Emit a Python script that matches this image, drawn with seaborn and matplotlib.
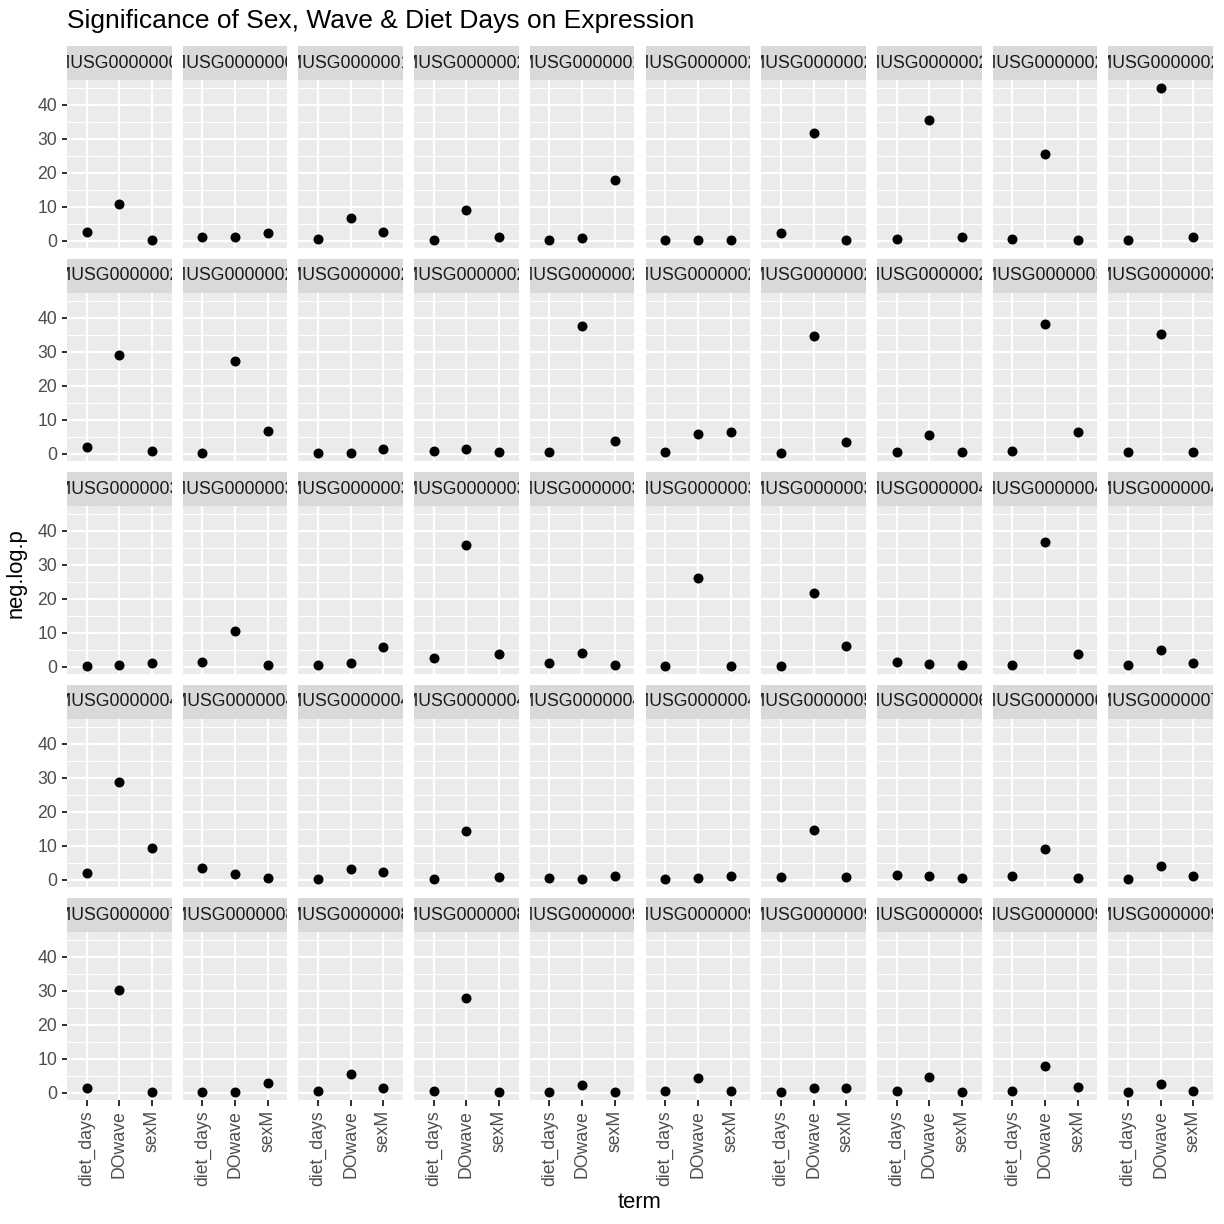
import numpy as np
import pandas as pd
import matplotlib.pyplot as plt
import seaborn as sns

# gene ids, one facet each (strip text gets clipped like in ggplot)
genes = [
    "ENSMUSG00000002076", "ENSMUSG00000005320", "ENSMUSG00000015143", "ENSMUSG00000020241",
    "ENSMUSG00000021109", "ENSMUSG00000022148", "ENSMUSG00000024030", "ENSMUSG00000025190",
    "ENSMUSG00000026580", "ENSMUSG00000028065",
    "ENSMUSG00000028410", "ENSMUSG00000028979", "ENSMUSG00000029220", "ENSMUSG00000029482",
    "ENSMUSG00000029655", "ENSMUSG00000029798", "ENSMUSG00000029910", "ENSMUSG00000029994",
    "ENSMUSG00000030711", "ENSMUSG00000031451",
    "ENSMUSG00000032171", "ENSMUSG00000032580", "ENSMUSG00000033544", "ENSMUSG00000034165",
    "ENSMUSG00000035547", "ENSMUSG00000036896", "ENSMUSG00000038437", "ENSMUSG00000040229",
    "ENSMUSG00000041616", "ENSMUSG00000042043",
    "ENSMUSG00000042638", "ENSMUSG00000044117", "ENSMUSG00000045382", "ENSMUSG00000046722",
    "ENSMUSG00000047822", "ENSMUSG00000049288", "ENSMUSG00000051331", "ENSMUSG00000060147",
    "ENSMUSG00000068245", "ENSMUSG00000071656",
    "ENSMUSG00000074807", "ENSMUSG00000081104", "ENSMUSG00000085233", "ENSMUSG00000089704",
    "ENSMUSG00000090137", "ENSMUSG00000091705", "ENSMUSG00000094483", "ENSMUSG00000095993",
    "ENSMUSG00000097451", "ENSMUSG00000099146",
]
terms = ["diet_days", "DOwave", "sexM"]

diet_days = [2.6, 1.2, 0.6, 0.3, 0.1, 0.1, 2.4, 0.6, 0.6, 0.1,
             2.0, 0.1, 0.1, 0.8, 0.5, 0.5, 0.3, 0.5, 0.8, 0.6,
             0.2, 1.4, 0.4, 2.6, 1.1, 0.3, 0.2, 1.4, 0.4, 0.5,
             2.1, 3.3, 0.1, 0.1, 0.4, 0.3, 0.8, 1.4, 1.1, 0.1,
             1.3, 0.1, 0.4, 0.4, 0.1, 0.4, 0.3, 0.4, 0.6, 0.1]
do_wave = [10.9, 1.2, 6.8, 9.1, 0.9, 0.2, 31.8, 35.6, 25.6, 45.0,
           29.1, 27.4, 0.2, 1.3, 37.6, 5.9, 34.7, 5.6, 38.2, 35.1,
           0.5, 10.6, 1.1, 35.9, 4.1, 26.2, 21.7, 0.9, 36.7, 4.8,
           28.6, 1.8, 3.2, 14.2, 0.1, 0.6, 14.5, 1.2, 9.0, 4.1,
           30.3, 0.1, 5.5, 27.8, 2.4, 4.2, 1.4, 4.6, 7.9, 2.7]
sex_m = [0.1, 2.4, 2.6, 1.2, 17.9, 0.2, 0.1, 1.0, 0.1, 1.2,
         0.9, 6.8, 1.5, 0.5, 3.8, 6.4, 3.3, 0.6, 6.4, 0.4,
         1.1, 0.5, 5.9, 3.7, 0.4, 0.3, 6.0, 0.6, 3.6, 1.0,
         9.4, 0.5, 2.3, 0.8, 1.1, 1.1, 0.9, 0.4, 0.5, 1.2,
         0.2, 2.9, 1.4, 0.2, 0.3, 0.6, 1.4, 0.3, 1.8, 0.6]

df = pd.DataFrame({
    "gene": np.repeat(genes, 3),
    "term": terms * len(genes),
    "neg.log.p": np.column_stack([diet_days, do_wave, sex_m]).ravel(),
})

sns.set_style("ticks")
plt.rcParams['font.family'] = ['Liberation Sans', 'DejaVu Sans']

g = sns.FacetGrid(df, col="gene", col_wrap=10, col_order=genes, sharex=True, sharey=True,
                  height=1.7, aspect=0.6, despine=False)
g.map_dataframe(sns.stripplot, x="term", y="neg.log.p", order=terms, jitter=False,
                color="black", size=5.0, linewidth=0)
g.set_titles("")
g.set_axis_labels("", "")

fig = g.figure
fig.set_size_inches(8.5, 8.5)
W = H = 1224.0

# layout in pixels (ggplot-like)
left0, pw, gapx = 67, 104.7, 11
top0, sh, ph, rowstep = 46, 34, 168, 213

ymin, ymax = min(df["neg.log.p"]), max(df["neg.log.p"])
pad = (ymax - ymin) * 0.05

for i, ax in enumerate(g.axes.flat):
    r, c = divmod(i, 10)
    x0 = left0 + c * (pw + gapx)
    stop = top0 + r * rowstep
    ptop = stop + sh
    ax.set_position([x0 / W, 1 - (ptop + ph) / H, pw / W, ph / H])
    ax.set_facecolor("#EBEBEB")
    for s in ax.spines.values():
        s.set_visible(False)
    ax.set_xlim(-0.6, 2.6)
    ax.set_ylim(ymin - pad, ymax + pad)
    ax.set_yticks([0, 10, 20, 30, 40])
    ax.set_yticks([5, 15, 25, 35, 45], minor=True)
    ax.set_axisbelow(True)
    ax.grid(which="major", color="white", linewidth=1.1)
    ax.grid(which="minor", axis="y", color="white", linewidth=0.55)
    ax.tick_params(which="minor", length=0)
    ax.tick_params(which="major", length=2.75, width=1.0, color="#333333",
                   labelcolor="#4D4D4D", labelsize=8.8, pad=2.2,
                   top=False, right=False)
    if c != 0:
        ax.tick_params(axis="y", left=False, labelleft=False)
    else:
        ax.tick_params(axis="y", left=True, labelleft=True)
    if r != 4:
        ax.tick_params(axis="x", bottom=False, labelbottom=False)
    else:
        ax.tick_params(axis="x", bottom=True, labelbottom=True, labelrotation=90)
    ax.set_xlabel("")
    ax.set_ylabel("")

    # strip on top of each panel
    sax = fig.add_axes([x0 / W, 1 - (stop + sh) / H, pw / W, sh / H])
    sax.set_facecolor("#D9D9D9")
    sax.set_xticks([])
    sax.set_yticks([])
    for s in sax.spines.values():
        s.set_visible(False)
    sax.text(0.5, 0.5, genes[i], ha="center", va="center", fontsize=8.8,
             color="#1A1A1A", transform=sax.transAxes, clip_on=True)

fig.text(left0 / W, 1 - 21 / H, "Significance of Sex, Wave & Diet Days on Expression",
         ha="left", va="center", fontsize=13.2, color="black")
fig.text(16 / W, 1 - 573 / H, "neg.log.p", rotation=90, ha="center", va="center",
         fontsize=11, color="black")
fig.text(640 / W, 1 - 1203 / H, "term", ha="center", va="center", fontsize=11, color="black")

fig.savefig("out.png", dpi=144, facecolor="white")
